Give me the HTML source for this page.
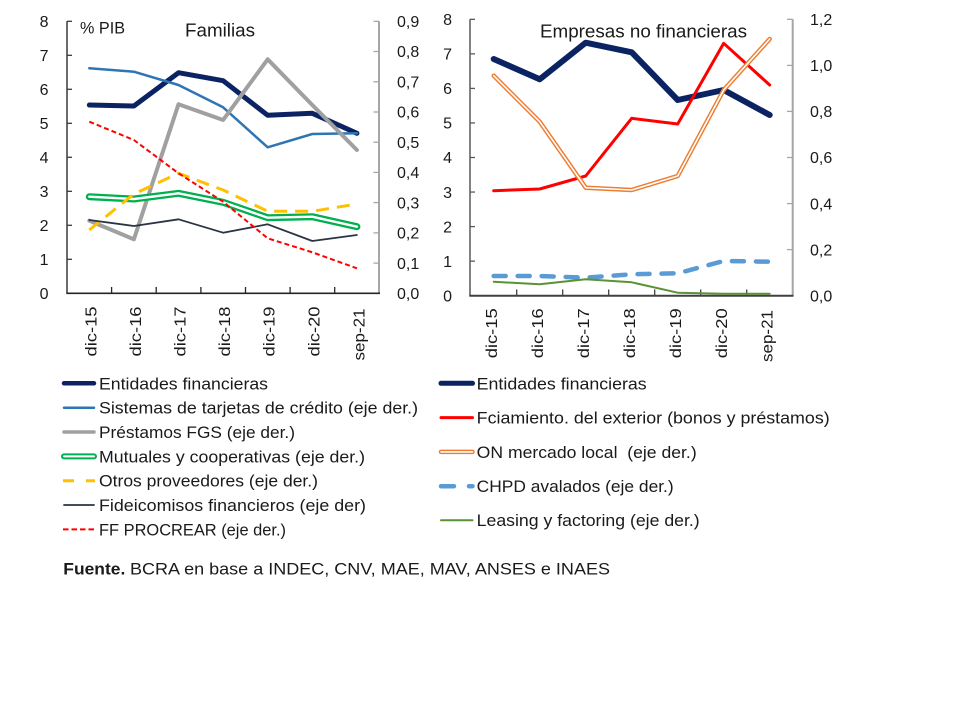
<!DOCTYPE html>
<html><head><meta charset="utf-8"><style>
html,body{margin:0;padding:0;background:#fff;}
svg{display:block;font-family:"Liberation Sans",sans-serif;}
</style></head><body>
<svg width="960" height="720" viewBox="0 0 960 720" xmlns="http://www.w3.org/2000/svg">
<rect width="960" height="720" fill="#fff"/>

<!-- ===== LEFT CHART ===== -->
<g fill="none">
  <!-- left axis -->
  <line x1="67" y1="21.3" x2="67" y2="293.3" stroke="#3a3a3a" stroke-width="1.5"/>
  <g stroke="#3a3a3a" stroke-width="1.3">
    <line x1="67" y1="21.3" x2="72" y2="21.3"/>
    <line x1="67" y1="55.3" x2="72" y2="55.3"/>
    <line x1="67" y1="89.3" x2="72" y2="89.3"/>
    <line x1="67" y1="123.3" x2="72" y2="123.3"/>
    <line x1="67" y1="157.3" x2="72" y2="157.3"/>
    <line x1="67" y1="191.3" x2="72" y2="191.3"/>
    <line x1="67" y1="225.3" x2="72" y2="225.3"/>
    <line x1="67" y1="259.3" x2="72" y2="259.3"/>
  </g>
  <!-- right axis -->
  <line x1="379" y1="21.3" x2="379" y2="293.3" stroke="#a6a6a6" stroke-width="2"/>
  <g stroke="#a6a6a6" stroke-width="1.3">
    <line x1="373.5" y1="21.3" x2="379" y2="21.3"/>
    <line x1="373.5" y1="51.5" x2="379" y2="51.5"/>
    <line x1="373.5" y1="81.8" x2="379" y2="81.8"/>
    <line x1="373.5" y1="112" x2="379" y2="112"/>
    <line x1="373.5" y1="142.2" x2="379" y2="142.2"/>
    <line x1="373.5" y1="172.4" x2="379" y2="172.4"/>
    <line x1="373.5" y1="202.6" x2="379" y2="202.6"/>
    <line x1="373.5" y1="232.9" x2="379" y2="232.9"/>
    <line x1="373.5" y1="263.1" x2="379" y2="263.1"/>
  </g>
  <!-- bottom axis -->
  <line x1="66.3" y1="293.3" x2="380" y2="293.3" stroke="#262626" stroke-width="1.6"/>
  <g stroke="#262626" stroke-width="1.3">
    <line x1="111.6" y1="287" x2="111.6" y2="293.3"/>
    <line x1="156.2" y1="287" x2="156.2" y2="293.3"/>
    <line x1="200.9" y1="287" x2="200.9" y2="293.3"/>
    <line x1="245.5" y1="287" x2="245.5" y2="293.3"/>
    <line x1="290.1" y1="287" x2="290.1" y2="293.3"/>
    <line x1="334.7" y1="287" x2="334.7" y2="293.3"/>
  </g>

  <!-- series -->
  <g stroke-linejoin="round" stroke-linecap="round">
    <path d="M89.3,105 L133.9,106 L178.5,72.7 L223.1,80.7 L267.7,115.3 L312.3,113.3 L356.9,133.3" stroke="#0b2362" stroke-width="5"/>
    <path d="M89.3,68.3 L133.9,71.7 L178.5,85 L223.1,107.3 L267.7,147.3 L312.3,134 L356.9,133.3" stroke="#2e75b6" stroke-width="2.5"/>
    <path d="M89.3,220.7 L133.9,239.3 L178.5,104.3 L223.1,120 L267.7,59.3 L312.3,105 L356.9,150" stroke="#a0a0a0" stroke-width="4"/>
    <path d="M89.3,196.7 L133.9,199 L178.5,193.3 L223.1,202.3 L267.7,217.7 L312.3,216.7 L356.9,226.7" stroke="#00b050" stroke-width="7"/>
    <path d="M89.3,196.7 L133.9,199 L178.5,193.3 L223.1,202.3 L267.7,217.7 L312.3,216.7 L356.9,226.7" stroke="#ffffff" stroke-width="2.4"/>
    <path d="M89.3,230 L133.9,194 L178.5,173.3 L223.1,190 L267.7,211.3 L312.3,211.3 L356.9,204" stroke="#ffc000" stroke-width="3" stroke-dasharray="13 8" stroke-linecap="butt"/>
    <path d="M89.3,220 L133.9,226 L178.5,219.3 L223.1,232.7 L267.7,224.3 L312.3,241 L356.9,235" stroke="#2b3444" stroke-width="1.8"/>
    <path d="M89.3,121.7 L133.9,140 L178.5,173.3 L223.1,201.7 L267.7,238.3 L312.3,252.3 L356.9,268.3" stroke="#ff0000" stroke-width="2" stroke-dasharray="5 3" stroke-linecap="butt"/>
  </g>
</g>

<g font-size="16" fill="#1a1a1a">
  <g text-anchor="end">
    <text x="48.5" y="27">8</text>
    <text x="48.5" y="61">7</text>
    <text x="48.5" y="95">6</text>
    <text x="48.5" y="129">5</text>
    <text x="48.5" y="163">4</text>
    <text x="48.5" y="197">3</text>
    <text x="48.5" y="231">2</text>
    <text x="48.5" y="265">1</text>
    <text x="48.5" y="299">0</text>
  </g>
  <g>
    <text x="397" y="27">0,9</text>
    <text x="397" y="57.2">0,8</text>
    <text x="397" y="87.5">0,7</text>
    <text x="397" y="117.7">0,6</text>
    <text x="397" y="147.9">0,5</text>
    <text x="397" y="178.1">0,4</text>
    <text x="397" y="208.3">0,3</text>
    <text x="397" y="238.6">0,2</text>
    <text x="397" y="268.8">0,1</text>
    <text x="397" y="299">0,0</text>
  </g>
  <g text-anchor="end">
    <text transform="translate(96.3,306.5) rotate(-90)" textLength="50" lengthAdjust="spacingAndGlyphs">dic-15</text>
    <text transform="translate(140.9,306.5) rotate(-90)" textLength="50" lengthAdjust="spacingAndGlyphs">dic-16</text>
    <text transform="translate(185.5,306.5) rotate(-90)" textLength="50" lengthAdjust="spacingAndGlyphs">dic-17</text>
    <text transform="translate(230.1,306.5) rotate(-90)" textLength="50" lengthAdjust="spacingAndGlyphs">dic-18</text>
    <text transform="translate(274.7,306.5) rotate(-90)" textLength="50" lengthAdjust="spacingAndGlyphs">dic-19</text>
    <text transform="translate(319.3,306.5) rotate(-90)" textLength="50" lengthAdjust="spacingAndGlyphs">dic-20</text>
    <text transform="translate(364.5,308.5) rotate(-90)" textLength="52" lengthAdjust="spacingAndGlyphs">sep-21</text>
  </g>
  <text x="80" y="33.3" font-size="17" textLength="45" lengthAdjust="spacingAndGlyphs">% PIB</text>
  <text x="185" y="36.5" font-size="18" textLength="70" lengthAdjust="spacingAndGlyphs">Familias</text>
</g>

<!-- ===== RIGHT CHART ===== -->
<g fill="none">
  <line x1="470" y1="19.3" x2="470" y2="295.7" stroke="#595959" stroke-width="1.5"/>
  <g stroke="#595959" stroke-width="1.3">
    <line x1="470" y1="19.3" x2="475" y2="19.3"/>
    <line x1="470" y1="53.85" x2="475" y2="53.85"/>
    <line x1="470" y1="88.4" x2="475" y2="88.4"/>
    <line x1="470" y1="122.95" x2="475" y2="122.95"/>
    <line x1="470" y1="157.5" x2="475" y2="157.5"/>
    <line x1="470" y1="192.05" x2="475" y2="192.05"/>
    <line x1="470" y1="226.6" x2="475" y2="226.6"/>
    <line x1="470" y1="261.15" x2="475" y2="261.15"/>
  </g>
  <line x1="792.7" y1="19.3" x2="792.7" y2="295.7" stroke="#a6a6a6" stroke-width="2"/>
  <g stroke="#a6a6a6" stroke-width="1.3">
    <line x1="787" y1="19.3" x2="792.7" y2="19.3"/>
    <line x1="787" y1="65.4" x2="792.7" y2="65.4"/>
    <line x1="787" y1="111.4" x2="792.7" y2="111.4"/>
    <line x1="787" y1="157.5" x2="792.7" y2="157.5"/>
    <line x1="787" y1="203.6" x2="792.7" y2="203.6"/>
    <line x1="787" y1="249.6" x2="792.7" y2="249.6"/>
  </g>
  <line x1="469.3" y1="295.7" x2="793.5" y2="295.7" stroke="#404040" stroke-width="2"/>
  <g stroke="#404040" stroke-width="1.3">
    <line x1="516.7" y1="289.5" x2="516.7" y2="295.7"/>
    <line x1="562.7" y1="289.5" x2="562.7" y2="295.7"/>
    <line x1="608.7" y1="289.5" x2="608.7" y2="295.7"/>
    <line x1="654.7" y1="289.5" x2="654.7" y2="295.7"/>
    <line x1="700.7" y1="289.5" x2="700.7" y2="295.7"/>
    <line x1="746.7" y1="289.5" x2="746.7" y2="295.7"/>
  </g>

  <g stroke-linejoin="round" stroke-linecap="round">
    <path d="M493.7,59 L539.7,79.3 L585.7,42.7 L631.7,52.3 L677.7,100 L723.7,90 L769.7,115" stroke="#0b2362" stroke-width="6"/>
    <path d="M493.7,190.7 L539.7,189 L585.7,176 L631.7,118.3 L677.7,124 L723.7,43.3 L769.7,85" stroke="#ff0000" stroke-width="3"/>
    <path d="M493.7,75.7 L539.7,121.7 L585.7,187.7 L631.7,190 L677.7,176 L723.7,90 L769.7,39" stroke="#ed7d31" stroke-width="4.5"/>
    <path d="M493.7,75.7 L539.7,121.7 L585.7,187.7 L631.7,190 L677.7,176 L723.7,90 L769.7,39" stroke="#ffffff" stroke-width="1.6"/>
    <path d="M493.7,276 L539.7,276 L585.7,277.7 L631.7,274.3 L677.7,273.3 L723.7,261 L769.7,261.7" stroke="#5b9bd5" stroke-width="4.5" stroke-dasharray="12 12"/>
    <path d="M493.7,281.7 L539.7,284.3 L585.7,279.3 L631.7,282.3 L677.7,292.7 L723.7,293.7 L769.7,293.7" stroke="#5a9234" stroke-width="2"/>
  </g>
</g>

<g font-size="16" fill="#1a1a1a">
  <g text-anchor="end">
    <text x="452" y="25">8</text>
    <text x="452" y="59.55">7</text>
    <text x="452" y="94.1">6</text>
    <text x="452" y="128.65">5</text>
    <text x="452" y="163.2">4</text>
    <text x="452" y="197.75">3</text>
    <text x="452" y="232.3">2</text>
    <text x="452" y="266.85">1</text>
    <text x="452" y="301.4">0</text>
  </g>
  <g>
    <text x="810" y="25">1,2</text>
    <text x="810" y="71.1">1,0</text>
    <text x="810" y="117.1">0,8</text>
    <text x="810" y="163.2">0,6</text>
    <text x="810" y="209.3">0,4</text>
    <text x="810" y="255.3">0,2</text>
    <text x="810" y="301.4">0,0</text>
  </g>
  <g text-anchor="end">
    <text transform="translate(497,308.3) rotate(-90)" textLength="50" lengthAdjust="spacingAndGlyphs">dic-15</text>
    <text transform="translate(543,308.3) rotate(-90)" textLength="50" lengthAdjust="spacingAndGlyphs">dic-16</text>
    <text transform="translate(589,308.3) rotate(-90)" textLength="50" lengthAdjust="spacingAndGlyphs">dic-17</text>
    <text transform="translate(635,308.3) rotate(-90)" textLength="50" lengthAdjust="spacingAndGlyphs">dic-18</text>
    <text transform="translate(681,308.3) rotate(-90)" textLength="50" lengthAdjust="spacingAndGlyphs">dic-19</text>
    <text transform="translate(727,308.3) rotate(-90)" textLength="50" lengthAdjust="spacingAndGlyphs">dic-20</text>
    <text transform="translate(772.5,310) rotate(-90)" textLength="52" lengthAdjust="spacingAndGlyphs">sep-21</text>
  </g>
  <text x="540" y="37.3" font-size="18" textLength="207" lengthAdjust="spacingAndGlyphs">Empresas no financieras</text>
</g>

<!-- ===== LEGEND LEFT ===== -->
<g fill="none" stroke-linecap="round">
  <line x1="64" y1="383.3" x2="94" y2="383.3" stroke="#0b2362" stroke-width="4.5"/>
  <line x1="64" y1="407.7" x2="94" y2="407.7" stroke="#2e75b6" stroke-width="2.5"/>
  <line x1="64" y1="432" x2="94" y2="432" stroke="#a0a0a0" stroke-width="3.5"/>
  <line x1="64" y1="456.4" x2="94" y2="456.4" stroke="#00b050" stroke-width="6"/>
  <line x1="64" y1="456.4" x2="94" y2="456.4" stroke="#ffffff" stroke-width="2"/>
  <line x1="63" y1="480.7" x2="95" y2="480.7" stroke="#ffc000" stroke-width="3" stroke-dasharray="11 12" stroke-linecap="butt"/>
  <line x1="64" y1="505" x2="94" y2="505" stroke="#2b3444" stroke-width="1.8"/>
  <line x1="63" y1="529.4" x2="95" y2="529.4" stroke="#ff0000" stroke-width="2" stroke-dasharray="5.5 3" stroke-linecap="butt"/>
</g>
<g font-size="17" fill="#1a1a1a">
  <text x="99" y="389.3" textLength="169" lengthAdjust="spacingAndGlyphs">Entidades financieras</text>
  <text x="99" y="413.7" textLength="319" lengthAdjust="spacingAndGlyphs">Sistemas de tarjetas de crédito (eje der.)</text>
  <text x="99" y="438" textLength="196" lengthAdjust="spacingAndGlyphs">Préstamos FGS (eje der.)</text>
  <text x="99" y="462.4" textLength="266" lengthAdjust="spacingAndGlyphs">Mutuales y cooperativas (eje der.)</text>
  <text x="99" y="486.7" textLength="219" lengthAdjust="spacingAndGlyphs">Otros proveedores (eje der.)</text>
  <text x="99" y="511" textLength="267" lengthAdjust="spacingAndGlyphs">Fideicomisos financieros (eje der)</text>
  <text x="99" y="535.4" textLength="187" lengthAdjust="spacingAndGlyphs">FF PROCREAR (eje der.)</text>
  <text x="63.3" y="574.3" font-weight="bold" textLength="62" lengthAdjust="spacingAndGlyphs">Fuente.</text>
  <text x="130" y="574.3" textLength="480" lengthAdjust="spacingAndGlyphs">BCRA en base a INDEC, CNV, MAE, MAV, ANSES e INAES</text>
</g>

<!-- ===== LEGEND RIGHT ===== -->
<g fill="none" stroke-linecap="round">
  <line x1="441" y1="383.3" x2="472.5" y2="383.3" stroke="#0b2362" stroke-width="5"/>
  <line x1="441" y1="417.6" x2="472.5" y2="417.6" stroke="#ff0000" stroke-width="3"/>
  <line x1="441" y1="451.9" x2="472.5" y2="451.9" stroke="#ed7d31" stroke-width="4.5"/>
  <line x1="441" y1="451.9" x2="472.5" y2="451.9" stroke="#ffffff" stroke-width="1.6"/>
  <line x1="441" y1="486.2" x2="454" y2="486.2" stroke="#5b9bd5" stroke-width="4.5"/>
  <line x1="469" y1="486.2" x2="472.5" y2="486.2" stroke="#5b9bd5" stroke-width="4.5"/>
  <line x1="441" y1="520.2" x2="472.5" y2="520.2" stroke="#5a9234" stroke-width="2"/>
</g>
<g font-size="17" fill="#1a1a1a">
  <text x="476.7" y="389.3" textLength="170" lengthAdjust="spacingAndGlyphs">Entidades financieras</text>
  <text x="476.7" y="423.6" textLength="353" lengthAdjust="spacingAndGlyphs">Fciamiento. del exterior (bonos y préstamos)</text>
  <text x="476.7" y="457.9" textLength="220" lengthAdjust="spacingAndGlyphs" xml:space="preserve">ON mercado local  (eje der.)</text>
  <text x="476.7" y="492.2" textLength="197" lengthAdjust="spacingAndGlyphs">CHPD avalados (eje der.)</text>
  <text x="476.7" y="526.2" textLength="223" lengthAdjust="spacingAndGlyphs">Leasing y factoring (eje der.)</text>
</g>
</svg>
</body></html>
